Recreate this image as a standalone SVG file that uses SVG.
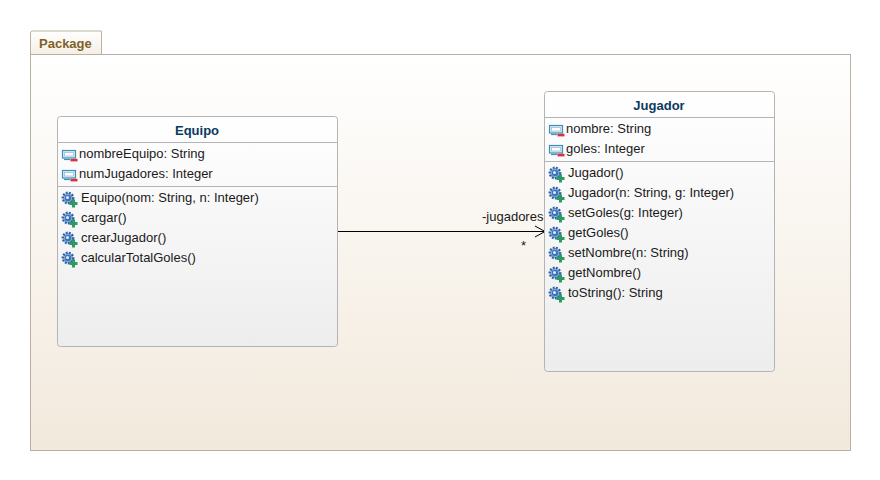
<svg xmlns="http://www.w3.org/2000/svg" width="880" height="480" viewBox="0 0 880 480">
<defs>
<linearGradient id="pk" x1="0" y1="0" x2="0" y2="1"><stop offset="0" stop-color="#ffffff"/><stop offset="1" stop-color="#f2e9dc"/></linearGradient>
<linearGradient id="tb" x1="0" y1="0" x2="0" y2="1"><stop offset="0" stop-color="#ffffff"/><stop offset="1" stop-color="#f5efe5"/></linearGradient>
<linearGradient id="cl" x1="0" y1="0" x2="0" y2="1"><stop offset="0" stop-color="#ffffff"/><stop offset="1" stop-color="#ededed"/></linearGradient>
<g id="attr">
<rect x="0.5" y="1.5" width="13" height="7.5" fill="#dcebf5" stroke="#3f8fb8" stroke-width="1.2"/>
<rect x="2.5" y="3.5" width="9" height="3.5" fill="#ffffff" stroke="#9cc2da" stroke-width="0.8"/>
<path d="M2 10.5H8" stroke="#3f8fb8" stroke-width="1.2"/>
<rect x="8.5" y="9.8" width="7" height="2.6" fill="#d8343f"/>
</g>
<g id="op">
<circle cx="6" cy="7" r="5.2" fill="#8fb4de" stroke="#2f62a5" stroke-width="2.4" stroke-dasharray="1.8 1.3"/>
<circle cx="6" cy="7" r="3.2" fill="#3f74b8"/>
<circle cx="5.5" cy="6.5" r="1.5" fill="#e4edf7"/>
<path d="M11.5 8.5V16.5M7.5 12.5H15.5" stroke="#2e9a63" stroke-width="3"/>
</g>
</defs>
<style>
text{font-family:"Liberation Sans",Arial,sans-serif;font-size:13px;fill:#1a1a1a}
.title{font-weight:bold;fill:#0b3a5e;text-anchor:middle}
.box{fill:url(#cl);stroke:#b4b4b4;stroke-width:1}
.sep{stroke:#b4b4b4;stroke-width:1;fill:none}
</style>
<g id="package">
<path d="M30.5 54.5V33a2 2 0 0 1 2-2H101.5V54.5Z" fill="url(#tb)" stroke="#bdb39f"/>
<rect x="30.5" y="54.5" width="820" height="396" fill="url(#pk)" stroke="#b8b0a0"/>
<text x="39" y="48" style="font-weight:bold;fill:#7f6128">Package</text>
</g>
<g id="connectors">
<path d="M338 231.5H545" fill="none" stroke="#000" stroke-width="1"/>
<path d="M535 226L545 231.5L535 237" fill="none" stroke="#000" stroke-width="1"/>
<text x="482" y="221">-jugadores</text>
<text x="521" y="250">*</text>
</g>
<g id="equipo">
<rect class="box" x="57.5" y="116.5" width="280" height="230" rx="3"/>
<path class="sep" d="M58 142.5H337M58 186.5H337"/>
<text class="title" x="197" y="135">Equipo</text>
<use href="#attr" x="62" y="149"/><text x="79" y="158">nombreEquipo: String</text>
<use href="#attr" x="62" y="169"/><text x="79" y="178">numJugadores: Integer</text>
<use href="#op" x="62" y="191"/><text x="81" y="202">Equipo(nom: String, n: Integer)</text>
<use href="#op" x="62" y="211"/><text x="81" y="222">cargar()</text>
<use href="#op" x="62" y="231"/><text x="81" y="242">crearJugador()</text>
<use href="#op" x="62" y="251"/><text x="81" y="262">calcularTotalGoles()</text>
</g>
<g id="jugador">
<rect class="box" x="544.5" y="91.5" width="230" height="280" rx="3"/>
<path class="sep" d="M545 117.5H774M545 161.5H774"/>
<text class="title" x="659" y="110">Jugador</text>
<use href="#attr" x="549" y="124"/><text x="566" y="133">nombre: String</text>
<use href="#attr" x="549" y="144"/><text x="566" y="153">goles: Integer</text>
<use href="#op" x="549" y="166"/><text x="568" y="177">Jugador()</text>
<use href="#op" x="549" y="186"/><text x="568" y="197">Jugador(n: String, g: Integer)</text>
<use href="#op" x="549" y="206"/><text x="568" y="217">setGoles(g: Integer)</text>
<use href="#op" x="549" y="226"/><text x="568" y="237">getGoles()</text>
<use href="#op" x="549" y="246"/><text x="568" y="257">setNombre(n: String)</text>
<use href="#op" x="549" y="266"/><text x="568" y="277">getNombre()</text>
<use href="#op" x="549" y="286"/><text x="568" y="297">toString(): String</text>
</g>
</svg>
